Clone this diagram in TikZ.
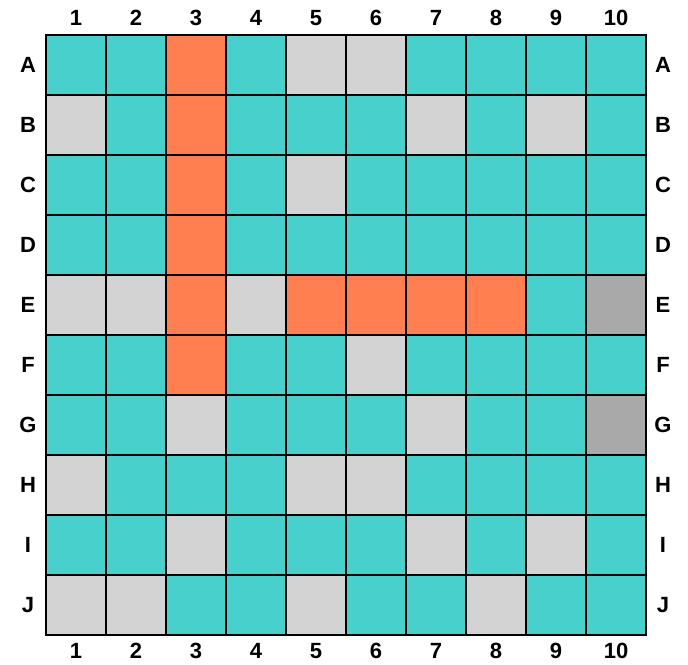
\documentclass[tikz,border=0pt]{standalone}
\usepackage{fontspec}
\setmainfont{Liberation Sans}
\definecolor{cellt}{HTML}{48D1CC}
\definecolor{cello}{HTML}{FF7F50}
\definecolor{celll}{HTML}{D3D3D3}
\definecolor{celld}{HTML}{A9A9A9}
\begin{document}
\begin{tikzpicture}[x=1pt,y=-1pt,
  lbl/.style={font=\bfseries\fontsize{22}{24}\selectfont,inner sep=0pt}]
  \useasboundingbox (0,0) rectangle (688,664);
  % cells, row by row: t teal, o coral, l light grey, d dark grey
  \foreach \cells [count=\r] in {
    {t,t,o,t,l,l,t,t,t,t},
    {l,t,o,t,t,t,l,t,l,t},
    {t,t,o,t,l,t,t,t,t,t},
    {t,t,o,t,t,t,t,t,t,t},
    {l,l,o,l,o,o,o,o,t,d},
    {t,t,o,t,t,l,t,t,t,t},
    {t,t,l,t,t,t,l,t,t,d},
    {l,t,t,t,l,l,t,t,t,t},
    {t,t,l,t,t,t,l,t,l,t},
    {l,l,t,t,l,t,t,l,t,t}}{
    \foreach \c [count=\col] in \cells{
      \draw[fill=cell\c,line width=2pt] (46+60*\col-60,35+60*\r-60) rectangle ++(60,60);
    }
  }
  % column numbers
  \foreach \n in {1,...,10}{
    \node[lbl] (top\n) at (16+60*\n,18) {\n};
    \node[lbl] (bot\n) at (16+60*\n,651) {\n};
  }
  % row letters
  \foreach \L [count=\i] in {A,B,C,D,E,F,G,H,I,J}{
    \node[lbl] (left\L) at (28,5+60*\i) {\L};
    \node[lbl] (right\L) at (663,5+60*\i) {\L};
  }
\end{tikzpicture}
\end{document}
